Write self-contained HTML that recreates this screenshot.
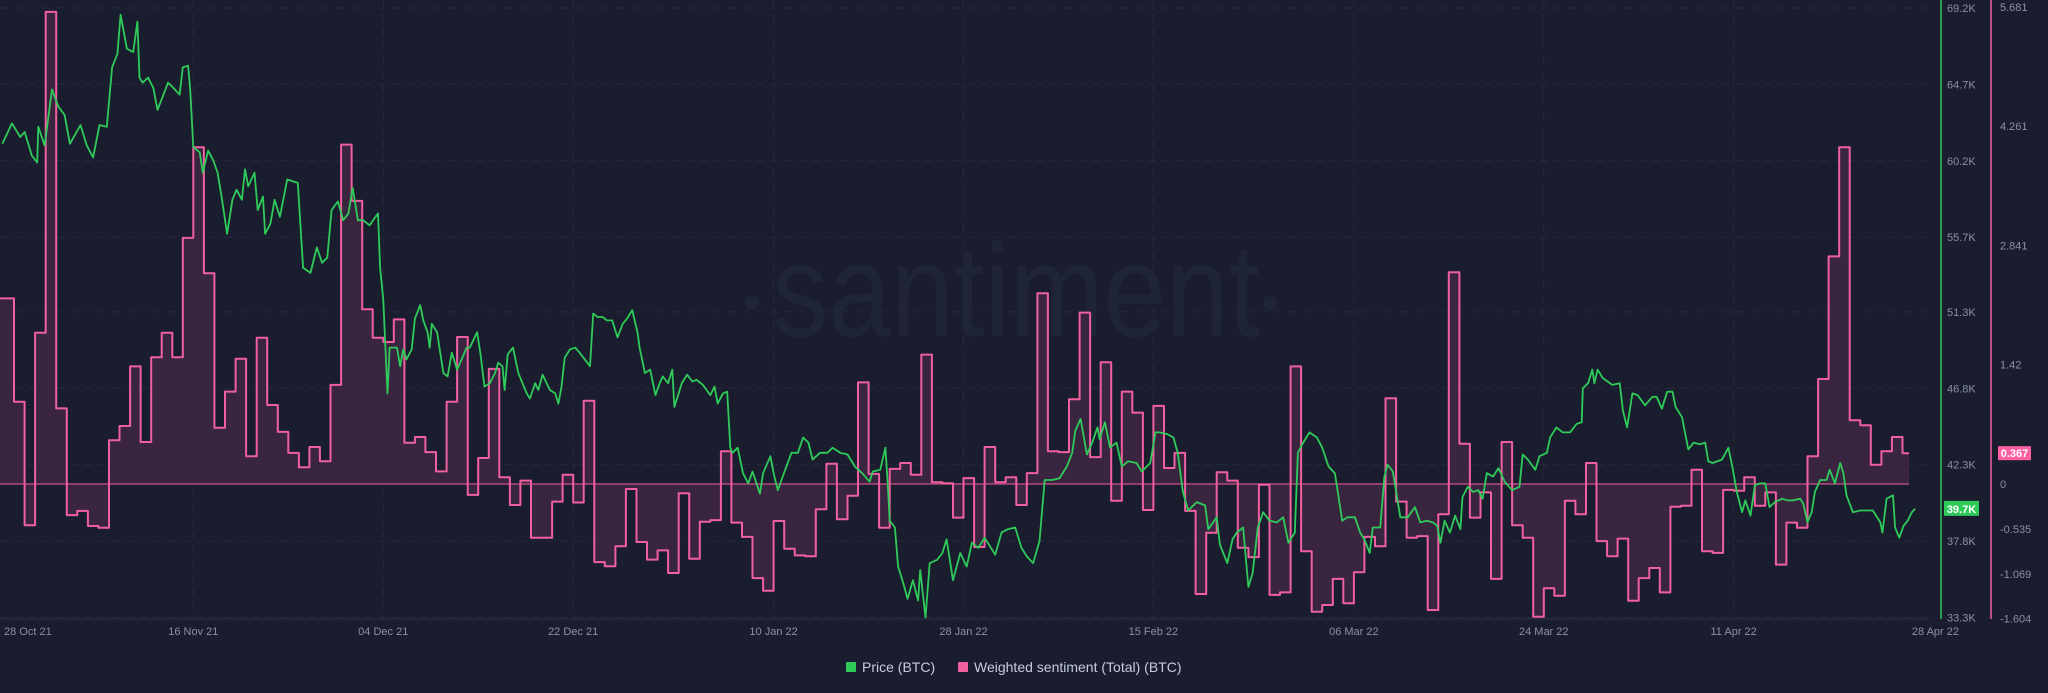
<!DOCTYPE html>
<html><head><meta charset="utf-8"><style>
html,body{margin:0;padding:0;background:#1a1d2d;}
svg{display:block;font-family:"Liberation Sans",sans-serif;}
</style></head><body>
<svg id="chart" width="2048" height="693" viewBox="0 0 2048 693" xmlns="http://www.w3.org/2000/svg">
<rect x="0" y="0" width="2048" height="693" fill="#1a1d2d"/>
<g id="grid"></g>
<g>
<circle cx="752" cy="303" r="7" fill="#202437"/>
<text x="772" y="336" font-size="132" fill="#202437" textLength="488" lengthAdjust="spacingAndGlyphs">santiment</text>
<circle cx="1270" cy="303" r="7" fill="#202437"/>
</g>
<g id="sent"></g>
<g id="price"></g>
<g id="axes"></g>
<g>
<rect x="846" y="662" width="10" height="10" rx="1" fill="#2fcb5a"/>
<text x="862" y="672" font-size="14" fill="#c6ccda">Price (BTC)</text>
<rect x="958" y="662" width="10" height="10" rx="1" fill="#f0609e"/>
<text x="974" y="672" font-size="14" fill="#c6ccda">Weighted sentiment (Total) (BTC)</text>
</g>
</svg>
<script>
const sentimentVals = [2.21,0.98,-0.49,1.80,5.62,0.90,-0.37,-0.32,-0.50,-0.52,
0.52,0.69,1.40,0.50,1.51,1.80,1.51,2.93,4.01,2.51,
0.67,1.10,1.49,0.33,1.74,0.94,0.62,0.37,0.20,0.44,
0.27,1.18,4.04,3.37,2.08,1.74,1.69,1.96,0.49,0.56,
0.38,0.15,0.98,1.75,-0.13,0.31,1.37,0.08,-0.25,0.04,
-0.64,-0.64,-0.21,0.11,-0.22,0.99,-0.93,-0.98,-0.74,-0.06,
-0.69,-0.90,-0.79,-1.06,-0.11,-0.89,-0.45,-0.43,0.39,-0.46,
-0.63,-1.12,-1.27,-0.44,-0.77,-0.85,-0.86,-0.30,0.24,-0.42,
-0.14,1.21,0.12,-0.52,0.18,0.25,0.11,1.54,0.02,0.01,
-0.40,0.07,-0.75,0.44,0.02,0.08,-0.25,0.13,2.27,0.39,
0.38,1.01,2.04,0.32,1.45,-0.20,1.10,0.85,-0.31,0.93,
0.19,0.37,-0.32,-1.31,-0.58,0.14,0.04,-0.76,-0.87,-0.01,
-1.32,-1.29,1.40,-0.80,-1.52,-1.44,-1.13,-1.42,-1.05,-0.63,
-0.74,1.02,-0.21,-0.64,-0.62,-1.50,-0.36,2.52,0.48,-0.40,
-0.10,-1.13,0.50,-0.49,-0.64,-1.58,-1.24,-1.33,-0.20,-0.36,
0.25,-0.68,-0.86,-0.65,-1.39,-1.12,-1.00,-1.29,-0.27,-0.26,
0.17,-0.80,-0.82,-0.07,-0.08,0.08,-0.26,-0.10,-0.96,-0.46,
-0.52,0.33,1.25,2.71,4.01,0.76,0.70,0.23,0.39,0.56,
0.367];
const priceDays = [-0.1,0.8,1.6,2.0,2.7,3.2,3.3,3.9,4.6,5.2,5.8,6.3,7.3,7.9,8.5,9.1,9.8,10.3,10.8,11.1,11.7,12.3,12.7,12.9,13.2,13.7,14.2,14.6,15.1,15.6,16.1,16.7,17.0,17.5,17.7,18.0,18.6,18.9,19.4,19.9,20.3,20.7,21.2,21.7,22.1,22.6,22.9,23.2,23.8,24.1,24.6,24.8,25.3,25.7,26.2,26.9,27.9,28.4,29.1,29.7,30.2,30.7,31.1,31.7,32.2,32.7,33.1,33.6,34.1,34.7,35.5,35.7,36.0,36.4,36.6,37.3,37.6,37.9,38.2,38.7,39.0,39.5,39.8,40.2,40.4,40.6,41.1,41.4,41.7,42.1,42.5,43.0,43.5,43.9,44.2,44.9,45.2,45.6,46.1,46.6,46.9,47.3,47.5,47.8,48.3,48.8,49.2,49.6,49.9,50.4,50.7,51.1,51.8,52.3,52.6,52.9,53.2,53.7,54.2,54.6,55.6,55.9,56.3,56.8,57.2,57.7,58.2,58.7,59.1,59.6,60.1,60.3,60.8,61.3,61.8,62.2,62.5,63.0,63.4,63.6,64.3,64.8,65.3,65.7,66.3,67.0,67.4,67.7,68.2,68.6,68.9,69.1,69.6,70.1,70.6,71.0,71.7,72.0,72.7,73.0,73.4,74.1,74.7,75.3,75.8,76.3,76.7,77.4,78.1,78.6,79.3,80.0,80.7,81.4,82.1,82.4,83.1,83.6,83.8,84.0,84.5,84.8,85.3,85.7,86.2,86.7,86.9,87.4,87.8,88.5,89.0,89.4,90.0,90.7,91.3,91.8,92.4,93.0,94.0,94.6,95.2,95.9,96.5,97.0,97.6,98.2,98.7,99.4,100.1,100.8,101.3,101.6,102.1,102.7,103.2,103.7,103.9,104.4,104.9,105.5,106.0,106.6,107.4,107.9,108.7,109.2,109.6,110.3,110.9,111.3,111.8,112.3,113.1,113.9,114.2,115.0,115.3,116.0,116.5,116.9,117.5,118.0,118.4,118.9,119.4,120.0,120.7,121.3,121.8,122.4,122.7,123.2,123.8,124.5,125.0,125.6,126.2,126.9,127.4,128.1,128.6,129.0,129.5,129.8,130.5,130.9,131.2,131.7,132.4,133.1,133.8,134.3,134.9,135.5,135.9,136.2,136.6,137.1,137.6,138.1,138.3,138.8,139.3,139.8,140.2,140.6,141.2,141.7,142.3,143.0,143.7,144.0,144.5,145.2,145.6,146.3,146.6,147.2,147.8,148.5,149.1,149.6,149.7,150.2,150.6,150.8,151.1,151.6,152.5,153.2,153.5,153.9,154.4,154.9,155.6,156.3,156.7,157.2,157.7,158.2,158.5,159.1,159.7,160.2,160.8,161.3,161.6,162.0,162.9,163.5,163.9,164.3,164.8,165.1,165.6,166.0,166.5,167.0,167.4,167.9,168.6,169.1,169.6,170.3,170.6,171.0,171.4,171.7,172.2,172.8,173.1,173.6,174.1,174.4,174.7,175.3,176.0,176.6,177.2,177.9,178.1,178.5,179.1,179.3,179.7,180.1,180.5,180.9,181.2];
const priceVals = [61.2,62.4,61.6,61.9,60.5,60.1,62.2,61.1,64.4,63.4,62.9,61.2,62.3,61.1,60.4,62.3,62.2,65.7,66.5,68.8,66.8,66.6,68.4,65.1,64.8,65.1,64.5,63.2,64.0,64.8,64.5,64.1,65.7,65.8,64.4,61.0,60.7,59.5,60.8,60.2,59.5,58.0,55.9,57.9,58.5,57.9,59.7,58.7,59.5,57.3,58.1,55.9,56.5,57.9,56.9,59.1,58.9,53.9,53.6,55.1,54.2,54.5,57.3,57.8,56.7,57.1,58.6,56.7,56.7,56.4,57.1,53.9,52.0,46.5,49.2,49.2,48.1,49.1,48.5,49.1,50.9,51.7,50.8,50.1,49.2,50.6,50.1,48.9,47.7,47.5,48.9,47.9,48.6,49.2,49.2,50.1,48.9,46.9,47.1,47.7,48.3,48.1,46.7,48.8,49.2,47.7,47.1,46.5,46.2,47.1,46.7,47.6,46.7,46.5,45.9,46.9,48.6,49.1,49.2,48.9,48.1,51.2,51.0,51.0,50.8,50.8,49.8,50.6,50.9,51.4,50.1,49.2,47.7,47.9,46.4,47.1,47.5,47.1,47.9,45.7,47.1,47.6,47.2,47.3,47.0,46.4,46.9,45.9,46.5,46.6,43.3,43.0,43.3,41.8,41.2,41.9,40.6,41.8,42.8,41.8,40.8,42.0,43.0,43.0,43.9,43.6,42.6,43.0,43.0,43.3,43.0,42.9,42.2,41.8,41.3,41.9,42.0,43.3,41.4,39.0,38.6,36.3,35.3,34.4,35.5,34.3,36.1,33.3,36.5,36.7,37.1,37.9,35.5,37.1,36.3,37.7,37.4,38.0,37.0,38.3,38.5,38.6,37.4,36.9,36.5,37.8,41.4,41.4,41.5,42.2,43.0,44.3,45.0,42.9,43.6,44.5,43.8,44.8,43.3,43.6,42.2,42.5,42.4,41.9,42.4,44.2,44.2,44.1,43.9,43.0,40.7,39.6,40.1,39.9,38.5,39.2,37.6,36.5,37.9,38.3,38.6,35.1,35.9,38.6,39.5,39.0,38.9,39.2,37.7,38.3,43.0,43.6,44.2,43.9,43.3,42.2,41.8,39.0,39.2,39.2,38.3,37.9,37.1,38.6,38.6,41.6,42.3,41.9,39.2,39.2,39.8,38.9,39.0,38.9,38.7,37.7,39.0,38.3,39.3,38.5,40.4,41.0,40.7,40.8,40.3,41.8,41.6,42.1,41.3,40.8,41.0,42.9,42.6,42.0,42.8,43.0,43.9,44.5,44.2,44.2,44.7,44.8,46.8,47.1,47.9,47.1,47.9,47.4,47.0,47.1,45.5,44.5,46.5,46.4,45.8,46.3,46.3,45.6,46.6,46.6,45.7,45.1,43.2,43.6,43.5,43.6,42.5,42.4,42.6,43.3,42.1,40.7,39.5,40.2,39.3,41.1,41.2,41.2,39.8,40.1,40.3,40.2,40.2,40.3,40.0,38.9,39.5,40.7,41.4,41.4,42.0,41.2,42.4,41.8,40.5,39.5,39.6,39.6,39.6,38.9,38.3,40.3,40.5,38.6,38.0,38.7,39.0,39.5,39.7];
const priceTicks = [69.2,64.7,60.2,55.7,51.3,46.8,42.3,37.8,33.3];
const priceTickLabels = ["69.2K","64.7K","60.2K","55.7K","51.3K","46.8K","42.3K","37.8K","33.3K"];
const sentTicks = [5.681,4.261,2.841,1.42,0,-0.535,-1.069,-1.604];
const sentTickLabels = ["5.681","4.261","2.841","1.42","0","-0.535","-1.069","-1.604"];
const dateTickDays = [-1,18,36,54,73,91,109,128,146,164,181];
const dateTickLabels = ["28 Oct 21","16 Nov 21","04 Dec 21","22 Dec 21","10 Jan 22","28 Jan 22","15 Feb 22","06 Mar 22","24 Mar 22","11 Apr 22","28 Apr 22"];

const NS = "http://www.w3.org/2000/svg";
const PLOT_R = 1930;
function xS(d){ return 3.45 + d*10.55; }
function yP(p){ return 8 + (69.2 - p)*(76.4/4.5); }
function yS(v){ return 484 - v*84; }
function mk(tag, attrs, parent){ const e=document.createElementNS(NS,tag); for(const k in attrs) e.setAttribute(k,attrs[k]); parent.appendChild(e); return e; }

const grid=document.getElementById('grid');
priceTicks.forEach((p,i)=>{
  const l=mk('line',{x1:0,x2:PLOT_R,y1:yP(p),y2:yP(p),stroke:'#262a3c','stroke-width':1,'stroke-dasharray':'8 6'},grid);
  
  
});
dateTickDays.forEach((d,i)=>{
  const x=xS(d); if(x<5||x>1900) return;
  const l=mk('line',{x1:x,x2:x,y1:0,y2:619,stroke:'#262a3c','stroke-width':1,'stroke-dasharray':'8 6'},grid);
  
  
});

// sentiment step area
const sent=document.getElementById('sent');
let line='', z=yS(0);
const n=sentimentVals.length;
let pts=[];
for(let k=0;k<n;k++){
  const x0=k===0?0:xS(k), x1=Math.min(xS(k+1),1909), y=yS(sentimentVals[k]);
  pts.push([x0,y]); pts.push([x1,y]);
}
line='M'+pts.map(p=>p[0].toFixed(1)+','+p[1].toFixed(1)).join(' L');
const area=mk('path',{d:line+' L'+pts[pts.length-1][0].toFixed(1)+','+z+' L0,'+z+' Z',fill:'#3a2541',stroke:'none'},sent);


const zl=mk('line',{x1:0,x2:1909,y1:z,y2:z,stroke:'#b24a7c','stroke-width':1.5},sent);


const sl=mk('path',{d:line,fill:'none',stroke:'#f0609e','stroke-width':2,'stroke-linejoin':'round'},sent);



// price line
const price=document.getElementById('price');
const pd='M'+priceDays.map((d,i)=>Math.max(0,xS(d)).toFixed(1)+','+yP(priceVals[i]).toFixed(1)).join(' L');
const pl=mk('path',{d:pd,fill:'none',stroke:'#2fcb5a','stroke-width':1.8,'stroke-linejoin':'round'},price);



// axes
const axes=document.getElementById('axes');
const bl=mk('line',{x1:0,x2:PLOT_R,y1:619,y2:619,stroke:'#2a2e40','stroke-width':1},axes);


const ga=mk('line',{x1:1941,x2:1941,y1:0,y2:619,stroke:'#2fcb5a','stroke-width':1.5},axes);


const pa=mk('line',{x1:1991,x2:1991,y1:0,y2:619,stroke:'#f0609e','stroke-width':1.5},axes);


priceTicks.forEach((p,i)=>{
  const t=mk('text',{x:1947,y:yP(p)+4,'font-size':11,fill:'#8a91a5'},axes);
  t.textContent=priceTickLabels[i];
  
  
});
sentTicks.forEach((v,i)=>{
  const t=mk('text',{x:2000,y:yS(v)+4,'font-size':11,fill:'#8a91a5'},axes);
  t.textContent=sentTickLabels[i];
  
  
});
dateTickDays.forEach((d,i)=>{
  let x=xS(d), anchor='middle';
  if(i===0){x=4;anchor='start';}
  if(i===dateTickDays.length-1){x=1959;anchor='end';}
  const t=mk('text',{x:x,y:635,'font-size':11,fill:'#8a91a5','text-anchor':anchor},axes);
  t.textContent=dateTickLabels[i];
  
  
});
// last value badges
const lastP=priceVals[priceVals.length-1], lastS=sentimentVals[n-1];
const gb=mk('rect',{x:1944,y:yP(lastP)-8,width:35,height:15,fill:'#2fcb5a'},axes);


const gt=mk('text',{x:1961.5,y:yP(lastP)+4,'font-size':11,'font-weight':'bold',fill:'#ffffff','text-anchor':'middle'},axes);
gt.textContent=lastP.toFixed(1)+'K';


const pb=mk('rect',{x:1998,y:yS(lastS)-7,width:33,height:14,fill:'#ff5fa0'},axes);


const pt=mk('text',{x:2014.5,y:yS(lastS)+4,'font-size':11,'font-weight':'bold',fill:'#ffffff','text-anchor':'middle'},axes);
pt.textContent=String(lastS);


</script>
</body></html>
